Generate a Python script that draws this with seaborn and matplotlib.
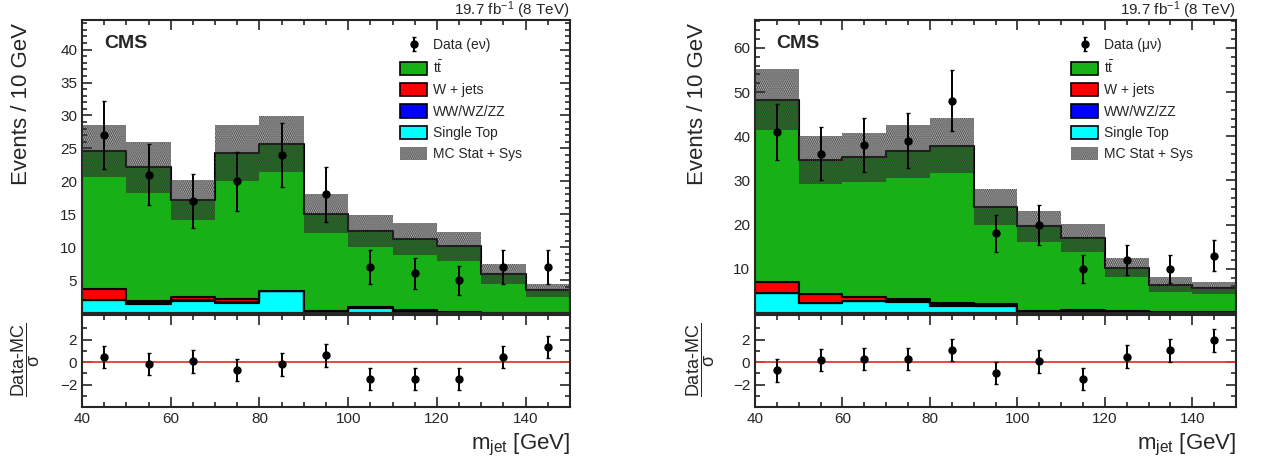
import numpy as np
import pandas as pd
import matplotlib
matplotlib.use('Agg')
import matplotlib.pyplot as plt
from matplotlib.patches import Patch
from matplotlib.ticker import MultipleLocator, FixedLocator
import seaborn as sns

# m_jet binning (10 GeV bins)
edges = [40, 50, 60, 70, 80, 90, 100, 110, 120, 130, 140, 150]
centers = [45, 55, 65, 75, 85, 95, 105, 115, 125, 135, 145]

# --- electron channel (e nu) ---
ttbar_e = [21.0, 20.3, 14.7, 22.2, 22.3, 14.8, 11.5, 10.8, 9.9, 5.9, 3.4]
wjets_e = [1.6, 0.35, 0.6, 0.5, 0.0, 0.15, 0.1, 0.3, 0.1, 0.0, 0.0]
diboson_e = [0.05, 0.05, 0.1, 0.1, 0.05, 0.05, 0.05, 0.05, 0.05, 0.02, 0.02]
stop_e = [2.0, 1.4, 1.8, 1.55, 3.3, 0.1, 0.8, 0.1, 0.05, 0.05, 0.05]
unc_e = [3.95, 3.85, 3.0, 4.25, 4.25, 2.95, 2.4, 2.4, 2.2, 1.5, 1.0]
data_e = [27, 21, 17, 20, 24, 18, 7, 6, 5, 7, 7]
data_err_e = [5.2, 4.6, 4.1, 4.5, 4.9, 4.2, 2.6, 2.4, 2.2, 2.6, 2.6]
pull_e = [0.44, -0.15, 0.06, -0.68, -0.2, 0.6, -1.48, -1.48, -1.48, 0.44, 1.33]
pull_err_e = [1, 1, 1, 1, 1, 1, 1, 1, 1, 1, 1]

# --- muon channel (mu nu) ---
ttbar_m = [41.3, 30.35, 31.65, 33.45, 35.75, 22.05, 19.1, 16.3, 9.85, 6.1, 5.4]
wjets_m = [2.45, 2.0, 0.8, 0.45, 0.4, 0.3, 0.2, 0.1, 0.1, 0.05, 0.05]
diboson_m = [0.1, 0.05, 0.05, 0.1, 0.15, 0.15, 0.1, 0.3, 0.05, 0.05, 0.05]
stop_m = [4.45, 2.3, 2.7, 2.6, 1.6, 1.5, 0.2, 0.3, 0.2, 0.2, 0.2]
unc_m = [6.85, 5.4, 5.55, 6.0, 6.2, 4.05, 3.55, 3.1, 2.15, 1.7, 1.4]
data_m = [41, 36, 38, 39, 48, 18, 20, 10, 12, 10, 13]
data_err_m = [6.4, 6.0, 6.2, 6.2, 6.9, 4.2, 4.5, 3.2, 3.5, 3.2, 3.6]
pull_m = [-0.74, 0.2, 0.3, 0.3, 1.1, -0.98, 0.06, -1.48, 0.5, 1.04, 1.93]
pull_err_m = [1, 1, 1, 1, 1, 1, 1, 1, 1, 1, 1]

procs = ['ttbar', 'W + jets', 'WW/WZ/ZZ', 'Single Top']
colors = {'ttbar': '#17b117', 'W + jets': '#ff0000',
          'WW/WZ/ZZ': '#0000ff', 'Single Top': '#00ffff'}

sns.set_style('ticks')
plt.rcParams['font.family'] = ['Liberation Sans', 'DejaVu Sans']
plt.rcParams['mathtext.fontset'] = 'custom'
plt.rcParams['mathtext.rm'] = 'Liberation Sans'
plt.rcParams['mathtext.it'] = 'Liberation Sans:italic'
plt.rcParams['mathtext.bf'] = 'Liberation Sans:bold'
plt.rcParams['hatch.linewidth'] = 1.2

W, H = 1276, 463
fig = plt.figure(figsize=(W / 100, H / 100), dpi=100)

band_face = (0, 0, 0, 0.2)
band_hatch = '........'
band_dots = '#3a3a3a'


def box(x0, y0, x1, y1):
    # pixel box -> figure fraction rect
    return [x0 / W, 1 - y1 / H, (x1 - x0) / W, (y1 - y0) / H]


def fx(x):
    return x / W


def fy(y):
    return 1 - y / H


def style_ticks(ax):
    ax.tick_params(which='both', direction='in', top=True, right=True,
                   width=1.2, labelsize=11)
    ax.tick_params(which='major', length=7)
    ax.tick_params(which='minor', length=3.5)
    for s in ax.spines.values():
        s.set_linewidth(1.5)


def panel(x0, x1, comps, unc, data, derr, pull, perr, chan, ymax, ymaj, ymin, legx):
    ax = fig.add_axes(box(x0, 20, x1, 313))
    rax = fig.add_axes(box(x0, 315, x1, 407))

    df = pd.DataFrame({
        'mjet': centers * 4,
        'events': np.concatenate(comps),
        'process': np.repeat(procs, len(centers)),
    })
    sns.histplot(data=df, x='mjet', weights='events', hue='process',
                 hue_order=procs, palette=colors, bins=edges,
                 multiple='stack', element='step', edgecolor='black',
                 linewidth=1.5, alpha=1, legend=False, ax=ax)

    total = np.sum(comps, axis=0)
    lo = total - np.array(unc)
    hi = total + np.array(unc)
    ax.fill_between(edges, np.append(lo, lo[-1]), np.append(hi, hi[-1]),
                    step='post', facecolor=band_face, edgecolor=band_dots,
                    hatch=band_hatch, linewidth=0, zorder=5)

    dat = ax.errorbar(centers, data, yerr=derr, fmt='o', color='black',
                      ms=5, elinewidth=1.4, capsize=1.5, zorder=10)

    ax.set_xlim(40, 150)
    ax.set_ylim(0, ymax)
    ax.set_xlabel('')
    ax.set_ylabel('')
    ax.xaxis.set_major_locator(MultipleLocator(20))
    ax.xaxis.set_minor_locator(MultipleLocator(5))
    ax.yaxis.set_major_locator(FixedLocator(np.arange(ymaj, ymax, ymaj)))
    ax.yaxis.set_minor_locator(MultipleLocator(ymin))
    ax.tick_params(labelbottom=False)
    style_ticks(ax)

    handles = [
        dat,
        Patch(facecolor=colors['ttbar'], edgecolor='black', linewidth=1.2),
        Patch(facecolor=colors['W + jets'], edgecolor='black', linewidth=1.2),
        Patch(facecolor=colors['WW/WZ/ZZ'], edgecolor='black', linewidth=1.2),
        Patch(facecolor=colors['Single Top'], edgecolor='black', linewidth=1.2),
        Patch(facecolor=band_face, edgecolor=band_dots, hatch=band_hatch,
              linewidth=0),
    ]
    labels = ['Data (%s)' % chan, r't$\bar{\mathrm{t}}$', 'W + jets',
              'WW/WZ/ZZ', 'Single Top', 'MC Stat + Sys']
    fig.legend(handles, labels, loc='upper left',
               bbox_to_anchor=(fx(legx), fy(38)), frameon=False,
               fontsize=10, handlelength=1.95, handleheight=1.1,
               labelspacing=0.5, handletextpad=0.45, borderpad=0,
               borderaxespad=0)

    ax.text(0.045, 0.92, 'CMS', transform=ax.transAxes, fontsize=14,
            fontweight='bold', ha='left', va='center')
    fig.text(fx(x1), fy(15), r'19.7 fb$^{-1}$ (8 TeV)', fontsize=11,
             ha='right', va='baseline')

    rax.errorbar(centers, pull, yerr=perr, fmt='o', color='black', ms=5,
                 elinewidth=1.4, capsize=1.5, zorder=10)
    rax.axhline(0, color='#e53935', linewidth=1.3, zorder=1)
    rax.set_xlim(40, 150)
    rax.set_ylim(-4.0, 4.2)
    rax.xaxis.set_major_locator(MultipleLocator(20))
    rax.xaxis.set_minor_locator(MultipleLocator(5))
    rax.yaxis.set_major_locator(FixedLocator([-2, 0, 2]))
    rax.yaxis.set_minor_locator(FixedLocator([-3, -1, 1, 3]))
    style_ticks(rax)
    rax.set_xlabel('')

    fig.text(fx(x1), fy(445), r'm$_{\mathrm{jet}}$ [GeV]', fontsize=16,
             ha='right', va='center')
    return ax, rax


panel(82, 570, [ttbar_e, wjets_e, diboson_e, stop_e], unc_e, data_e,
      data_err_e, pull_e, pull_err_e, 'eν', 44.5, 5, 1, 400)
panel(755, 1236, [ttbar_m, wjets_m, diboson_m, stop_m], unc_m, data_m,
      data_err_m, pull_m, pull_err_m, 'μν', 66.3, 10, 2, 1071)

for xl in (22, 697):
    fig.text(fx(xl), fy(23), 'Events / 10 GeV', fontsize=16,
             rotation=90, ha='center', va='top')
    fig.text(fx(xl + 4), fy(360), r'$\dfrac{\mathrm{Data{\text{-}}MC}}{\mathrm{σ}}$',
             fontsize=13, rotation=90, ha='center', va='center')

fig.savefig('out.png', dpi=100)
